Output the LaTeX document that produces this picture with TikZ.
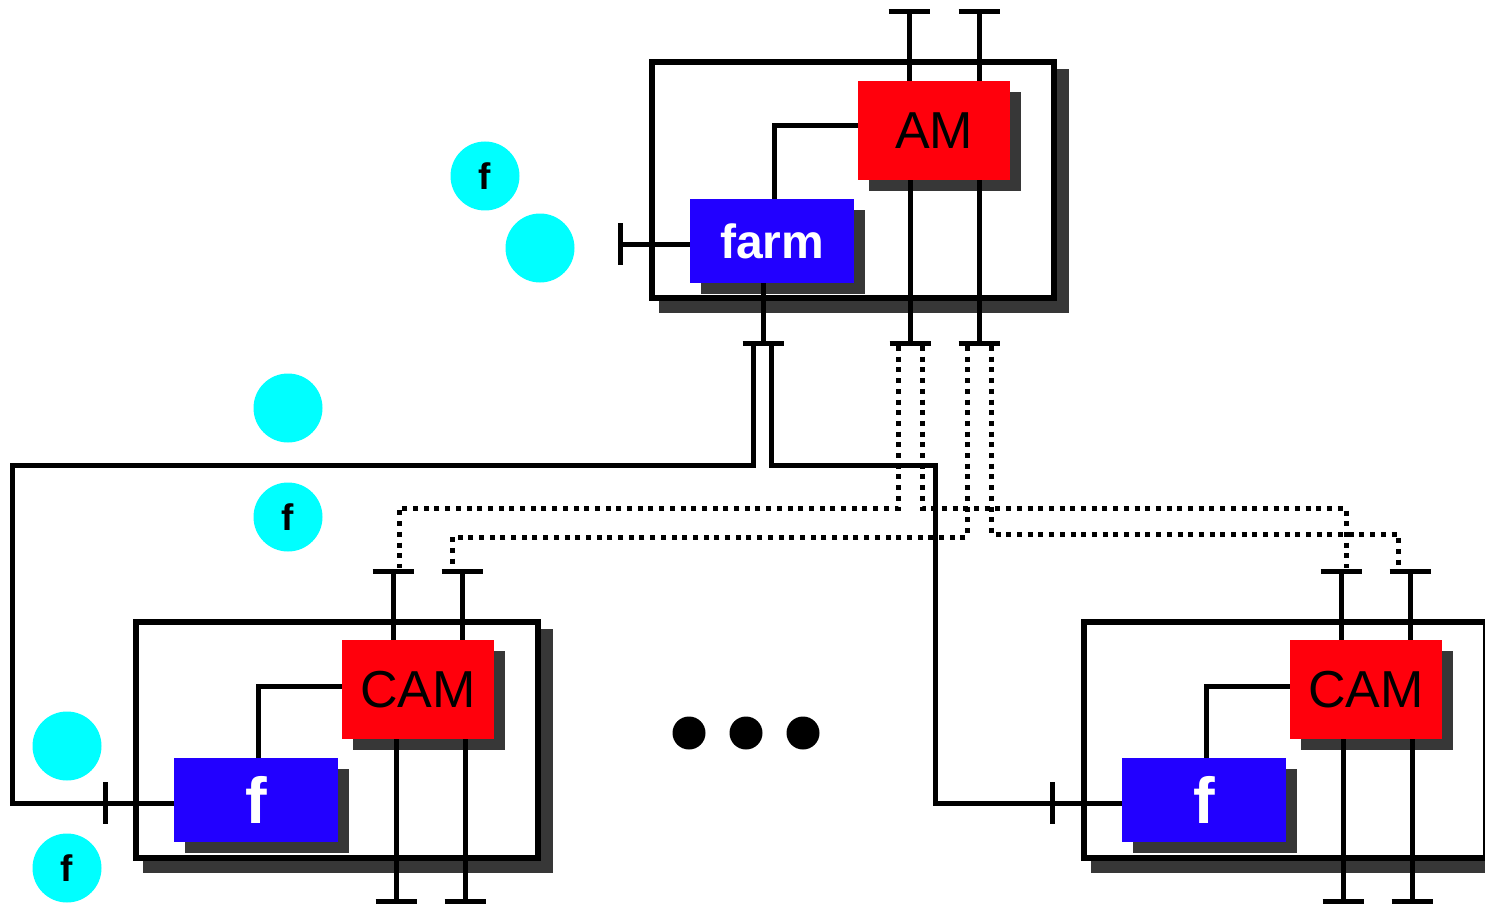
\documentclass[tikz,border=0pt]{standalone}
\usepackage{fontspec}
\setmainfont{Liberation Sans}
\usetikzlibrary{calc}
\definecolor{amred}{RGB}{255,0,12}
\definecolor{fblue}{RGB}{34,0,255}
\definecolor{fcyan}{RGB}{0,255,255}
\definecolor{shadowc}{RGB}{55,55,55}
\pgfdeclarelayer{lA}\pgfdeclarelayer{lB}\pgfdeclarelayer{lC}
\pgfsetlayers{lA,lB,lC,main}
\newcommand\tbarh[1]{\draw[wire] ($(#1)+(-20.5,0)$) -- ($(#1)+(20.5,0)$);}
\newcommand\tbarv[1]{\draw[wire] ($(#1)+(0,-21)$) -- ($(#1)+(0,21)$);}
\newcommand\frameshade[1]{\fill[shade] ($(#1.north west)+(10,10)$) rectangle ($(#1.south east)+(12,12)$);}
\newcommand\boxshade[1]{\fill[shade] ($(#1.north west)+(11,11)$) rectangle ($(#1.south east)+(11,11)$);}
\tikzset{
 wire/.style={line width=5pt},
 dots/.style={line width=5pt, dash pattern=on 5pt off 5.7pt},
 framebox/.style={draw, line width=6pt, fill=white, inner sep=0, anchor=north west, minimum width=402, minimum height=236},
 redbox/.style={fill=amred, inner sep=0, anchor=north west, minimum width=152, minimum height=99, font=\fontsize{52}{52}\selectfont},
 bluebox/.style={fill=fblue, text=white, inner sep=0, anchor=north west, minimum width=164, minimum height=84},
 ball/.style={circle, fill=fcyan, inner sep=0, minimum size=69, font=\bfseries\fontsize{37}{37}\selectfont},
 dotc/.style={circle, fill=black, inner sep=0, minimum size=33},
 shade/.style={fill=shadowc},
}
\begin{document}
\begin{tikzpicture}[x=1pt,y=-1pt]
\useasboundingbox (0,0) rectangle (1485,904);
% frames
\begin{pgfonlayer}{lB}
\node[framebox] (F0) at (649,59) {};
\node[framebox] (F1) at (133,619) {};
\node[framebox] (F2) at (1081,619) {};
\end{pgfonlayer}
\begin{pgfonlayer}{lA}
\frameshade{F0}\frameshade{F1}\frameshade{F2}
\end{pgfonlayer}
% boxes
\node[redbox] (AM) at (858,81) {AM};
\node[bluebox, font=\bfseries\fontsize{48}{48}\selectfont] (farm) at (690,199) {farm};
\node[redbox] (CAM1) at (342,640) {CAM};
\node[bluebox, font=\bfseries\fontsize{65}{65}\selectfont] (f1) at (174,758) {f};
\node[redbox] (CAM2) at (1290,640) {CAM};
\node[bluebox, font=\bfseries\fontsize{65}{65}\selectfont] (f2) at (1122,758) {f};
\begin{pgfonlayer}{lC}
\boxshade{AM}\boxshade{farm}\boxshade{CAM1}\boxshade{f1}\boxshade{CAM2}\boxshade{f2}
\end{pgfonlayer}
% port coordinates
\coordinate (pA1) at (909,12); \coordinate (pA2) at (979,12);
\coordinate (pB1) at (910,343); \coordinate (pB2) at (979,343);
\coordinate (pF) at (763,343);
\coordinate (pL) at (620,244);
\coordinate (pf1) at (105,803); \coordinate (pf2) at (1052,803);
\coordinate (c1t1) at (393,571); \coordinate (c1t2) at (462,571);
\coordinate (c1b1) at (396,901); \coordinate (c1b2) at (465,901);
\coordinate (c2t1) at (1341,571); \coordinate (c2t2) at (1410,571);
\coordinate (c2b1) at (1343,901); \coordinate (c2b2) at (1412,901);
% AM legs
\draw[wire] (pA1) -- (pA1 |- AM.north); \tbarh{pA1}
\draw[wire] (pA2) -- (pA2 |- AM.north); \tbarh{pA2}
\draw[wire] (pB1 |- AM.south) -- (pB1); \tbarh{pB1}
\draw[wire] (pB2 |- AM.south) -- (pB2); \tbarh{pB2}
% farm
\draw[wire] (pF |- farm.south) -- (pF); \tbarh{pF}
\draw[wire] (pL) -- (pL -| farm.west); \tbarv{pL}
\draw[wire] (farm.north -| 774,0) |- (AM.west |- 0,126);
% loops
\draw[wire] ($(pF)+(-10,2)$) |- (12,465) |- (pf1) -- (pf1 -| f1.west); \tbarv{pf1}
\draw[wire] ($(pF)+(8,2)$) |- (935,465) |- (pf2) -- (pf2 -| f2.west); \tbarv{pf2}
% CAM1
\draw[wire] (c1t1) -- (c1t1 |- CAM1.north); \tbarh{c1t1}
\draw[wire] (c1t2) -- (c1t2 |- CAM1.north); \tbarh{c1t2}
\draw[wire] (c1b1 |- CAM1.south) -- (c1b1); \tbarh{c1b1}
\draw[wire] (c1b2 |- CAM1.south) -- (c1b2); \tbarh{c1b2}
\draw[wire] (f1.north -| 258,0) |- (CAM1.west |- 0,686);
% CAM2
\draw[wire] (c2t1) -- (c2t1 |- CAM2.north); \tbarh{c2t1}
\draw[wire] (c2t2) -- (c2t2 |- CAM2.north); \tbarh{c2t2}
\draw[wire] (c2b1 |- CAM2.south) -- (c2b1); \tbarh{c2b1}
\draw[wire] (c2b2 |- CAM2.south) -- (c2b2); \tbarh{c2b2}
\draw[wire] (f2.north -| 1206,0) |- (CAM2.west |- 0,686);
% dotted links
\draw[dots] ($(pB1)+(-12,3)$) |- (399,508) -- ($(c1t1)+(6,-3)$);
\draw[dots] ($(pB1)+(12,3)$) |- (1346,508) -- ($(c2t1)+(5,-3)$);
\draw[dots] ($(pB2)+(-12,3)$) |- (452,537) -- ($(c1t2)+(-10,-3)$);
\draw[dots] ($(pB2)+(12,3)$) |- (1398,534) -- ($(c2t2)+(-12,-3)$);
% cyan balls
\node[ball] (b1) at (485,176) {f};
\node[ball] (b2) at (540,248) {};
\node[ball] (b3) at (288,408) {};
\node[ball] (b4) at (288,517) {f};
\node[ball] (b5) at (67,746) {};
\node[ball] (b6) at (67,868) {f};
% ellipsis
\node[dotc] (e1) at (689,733) {};
\node[dotc] (e2) at (746,733) {};
\node[dotc] (e3) at (803,733) {};
\end{tikzpicture}
\end{document}
